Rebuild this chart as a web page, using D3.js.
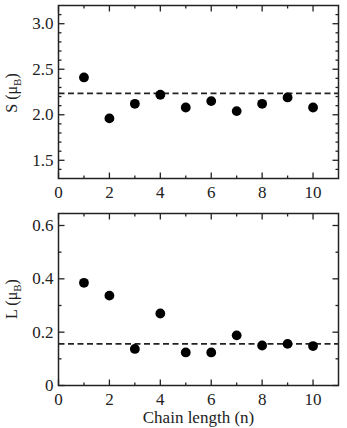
<!DOCTYPE html>
<html>
<head>
<meta charset="utf-8">
<script src="https://cdn.jsdelivr.net/npm/d3@7"></script>
<style>
  body { margin: 0; background: #fff; }
</style>
</head>
<body>
<script>
// chain length n = 1..10
let chainLength = [1, 2, 3, 4, 5, 6, 7, 8, 9, 10];
// spin moment S (muB)
let spinValues = [2.41, 1.96, 2.12, 2.22, 2.08, 2.15, 2.04, 2.12, 2.19, 2.08];
let spinRef = 2.235;
// orbital moment L (muB)
let orbValues = [0.385, 0.337, 0.137, 0.27, 0.124, 0.124, 0.188, 0.15, 0.156, 0.148];
let orbRef = 0.156;

let xTicks = [0, 2, 4, 6, 8, 10];
let xMinor = [1, 3, 5, 7, 9];
let spinTicks = [1.5, 2.0, 2.5, 3.0];
let spinTickLabels = ['1.5', '2.0', '2.5', '3.0'];
let spinMinor = [1.4, 1.6, 1.7, 1.8, 1.9, 2.1, 2.2, 2.3, 2.4, 2.6, 2.7, 2.8, 2.9, 3.1];
let orbTicks = [0, 0.2, 0.4, 0.6];
let orbTickLabels = ['0', '0.2', '0.4', '0.6'];
let orbMinor = [0.1, 0.3, 0.5];

const width = 347, height = 428;
const font = "'Liberation Serif', 'Times New Roman', 'DejaVu Serif', serif";

const svg = d3.select('body').append('svg')
    .attr('width', width)
    .attr('height', height)
    .attr('font-family', font);

const x = d3.scaleLinear().domain([0, 11]).range([58.5, 338.5]);

function panel(opts) {
  let y = d3.scaleLinear().domain(opts.domain).range([opts.bottom, opts.top]);
  let g = svg.append('g');
  let x0 = x.range()[0], x1 = x.range()[1];
  let y0 = opts.bottom, y1 = opts.top;

  // dashed reference line
  g.append('line')
    .attr('x1', x0).attr('x2', x1)
    .attr('y1', y(opts.ref)).attr('y2', y(opts.ref))
    .attr('stroke', '#222').attr('stroke-width', 1.6)
    .attr('stroke-dasharray', '6,3.5');

  // points
  g.selectAll('circle')
    .data(opts.values)
    .join('circle')
      .attr('cx', (d, i) => x(chainLength[i]))
      .attr('cy', d => y(d))
      .attr('r', 4.9)
      .attr('fill', '#000');

  // ticks on all four sides, pointing inward
  let tick = (x1_, y1_, x2_, y2_) => g.append('line')
    .attr('x1', x1_).attr('y1', y1_).attr('x2', x2_).attr('y2', y2_)
    .attr('stroke', '#222').attr('stroke-width', 1.3);

  xTicks.forEach(t => { tick(x(t), y0, x(t), y0 - 6); tick(x(t), y1, x(t), y1 + 6); });
  xMinor.forEach(t => { tick(x(t), y0, x(t), y0 - 3); tick(x(t), y1, x(t), y1 + 3); });
  opts.ticks.forEach(t => { tick(x0, y(t), x0 + 6, y(t)); tick(x1, y(t), x1 - 6, y(t)); });
  opts.minor.forEach(t => { tick(x0, y(t), x0 + 3, y(t)); tick(x1, y(t), x1 - 3, y(t)); });

  // frame
  g.append('rect')
    .attr('x', x0).attr('y', y1)
    .attr('width', x1 - x0).attr('height', y0 - y1)
    .attr('fill', 'none').attr('stroke', '#222').attr('stroke-width', 1.5);

  // tick labels
  g.selectAll('.xl')
    .data(xTicks)
    .join('text')
      .attr('x', d => x(d))
      .attr('y', y0 + 19)
      .attr('text-anchor', 'middle')
      .attr('font-size', 17)
      .attr('fill', '#222')
      .text(d => d);

  g.selectAll('.yl')
    .data(opts.ticks)
    .join('text')
      .attr('x', x0 - 5)
      .attr('y', d => y(d) + 5.5)
      .attr('text-anchor', 'end')
      .attr('font-size', 17)
      .attr('fill', '#222')
      .text((d, i) => opts.tickLabels[i]);

  // y axis title
  let lab = g.append('text')
    .attr('transform', 'translate(' + 17 + ',' + opts.labelY + ') rotate(-90)')
    .attr('text-anchor', 'middle')
    .attr('font-size', 16)
    .attr('fill', '#222');
  lab.append('tspan').text(opts.label + ' (\u03bc');
  lab.append('tspan').attr('font-size', 11).attr('dy', 4).text('B');
  lab.append('tspan').attr('dy', -4).text(')');
}

panel({
  values: spinValues, ref: spinRef,
  domain: [1.3, 3.2], top: 5.5, bottom: 178.5,
  ticks: spinTicks, tickLabels: spinTickLabels, minor: spinMinor,
  label: 'S', labelY: 93
});

panel({
  values: orbValues, ref: orbRef,
  domain: [0, 0.645], top: 213.5, bottom: 385.5,
  ticks: orbTicks, tickLabels: orbTickLabels, minor: orbMinor,
  label: 'L', labelY: 299
});

svg.append('text')
  .attr('x', (x.range()[0] + x.range()[1]) / 2)
  .attr('y', 423)
  .attr('text-anchor', 'middle')
  .attr('font-size', 17)
  .attr('fill', '#222')
  .text('Chain length (n)');
</script>
</body>
</html>
